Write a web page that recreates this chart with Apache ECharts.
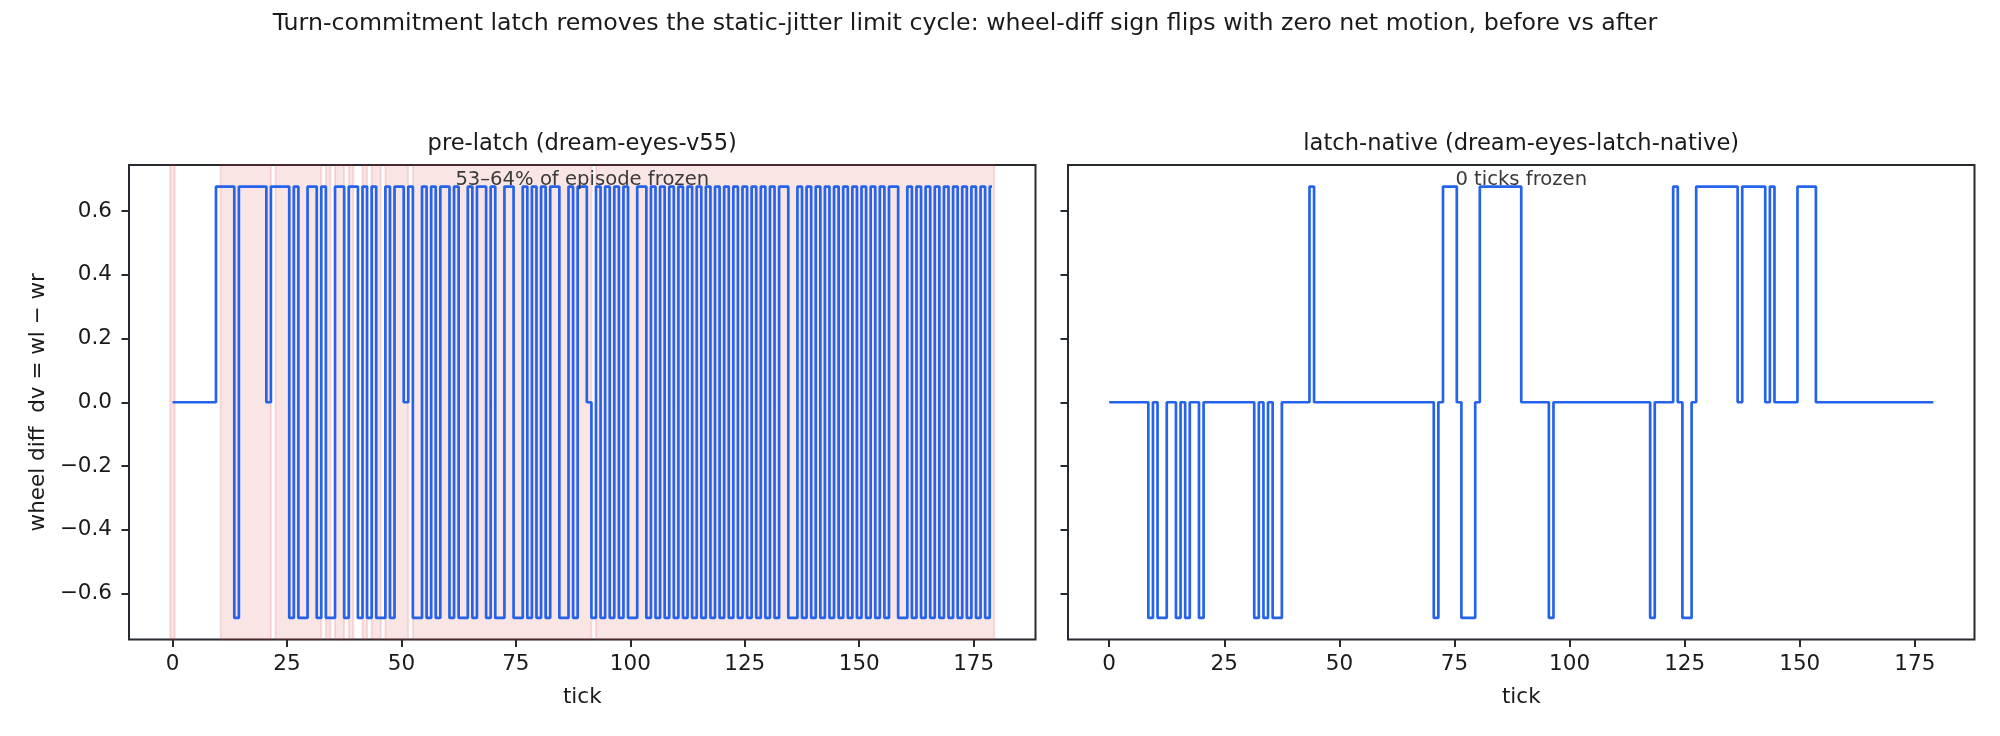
<!DOCTYPE html>
<html><head><meta charset="utf-8">
<script src="https://cdn.jsdelivr.net/npm/echarts@6/dist/echarts.min.js"></script>
<style>html,body{margin:0;padding:0;background:#fff}#c{width:2000px;height:736px}</style>
</head><body><div id="c"></div>
<script>
// wheel-diff levels
const P = 0.677, N = -0.677;

// x tick labels and y tick labels
const X_TICKS = [0, 25, 50, 75, 100, 125, 150, 175];
const Y_TICKS = [-0.6, -0.4, -0.2, 0, 0.2, 0.4, 0.6];

// pre-latch (dream-eyes-v55): dv per tick, ticks 0..179
const PRE_LATCH = [
  0,0,0,0,0,0,0,0,0,0,
  P,P,P,P,N,P,P,P,P,P,
  P,0,P,P,P,P,N,P,N,N,
  P,P,N,P,N,N,P,P,N,P,
  P,N,P,N,P,N,N,P,N,P,
  P,0,P,N,N,P,N,P,N,P,
  P,N,P,N,N,P,N,P,P,N,
  P,N,N,P,P,N,N,P,N,P,
  N,P,N,P,P,N,N,P,N,P,
  P,0,N,P,N,P,N,P,N,P,
  N,N,P,P,N,P,N,P,N,P,
  N,P,N,P,N,P,N,P,N,P,
  N,P,N,P,N,P,N,P,N,P,
  N,P,N,P,P,N,N,P,N,P,
  N,P,N,P,N,P,N,P,N,P,
  N,P,N,P,N,P,N,P,P,N,
  N,P,N,P,N,P,N,P,N,P,
  N,P,N,P,N,P,N,P,N,P
];

// latch-native (dream-eyes-latch-native): dv per tick, ticks 0..179
const LATCH_NATIVE = [
  0,0,0,0,0,0,0,0,0,N,
  0,N,N,0,0,N,0,N,0,0,
  N,0,0,0,0,0,0,0,0,0,
  0,0,N,0,N,0,N,N,0,0,
  0,0,0,0,P,0,0,0,0,0,
  0,0,0,0,0,0,0,0,0,0,
  0,0,0,0,0,0,0,0,0,0,
  0,N,0,P,P,P,0,N,N,N,
  0,P,P,P,P,P,P,P,P,P,
  0,0,0,0,0,0,N,0,0,0,
  0,0,0,0,0,0,0,0,0,0,
  0,0,0,0,0,0,0,0,N,0,
  0,0,0,P,0,N,N,0,P,P,
  P,P,P,P,P,P,P,0,P,P,
  P,P,P,0,P,0,0,0,0,0,
  P,P,P,P,0,0,0,0,0,0,
  0,0,0,0,0,0,0,0,0,0,
  0,0,0,0,0,0,0,0,0,0
];

// frozen stretches (shaded) in the pre-latch run, [start, end] in ticks
const FROZEN_SPANS = [
  [-0.5, 0.5], [10.5, 21.5], [22.5, 32.5], [33.5, 34.5], [35.5, 37.5],
  [38.5, 39.5], [41.5, 42.5], [43.5, 45.5], [46.5, 51.5], [52.5, 91.5], [92.5, 179.5]
];

const SUPTITLE = 'Turn-commitment latch removes the static-jitter limit cycle: wheel-diff sign flips with zero net motion, before vs after';
const PANEL_TITLES = ['pre-latch (dream-eyes-v55)', 'latch-native (dream-eyes-latch-native)'];
const PANEL_NOTES = ['53–64% of episode frozen', '0 ticks frozen'];

const FONT = 'DejaVu Sans';
const INK = '#1a1a1a';
const SPINE = '#262a31';
const LINE = '#2563eb';
const FS = 21.5;

const G = [
  {left: 129, top: 165, width: 906.5, height: 474.5},
  {left: 1068, top: 165, width: 906.5, height: 474.5}
];
const XR = [[-9.5, 188.5], [-8.95, 187.95]];
const YR = 0.7447;

const fmtY = v => (v < 0 ? '\u2212' : '') + Math.abs(v).toFixed(1);

function xAxis(i) {
  return {
    type: 'value', gridIndex: i, min: XR[i][0], max: XR[i][1],
    splitLine: {show: false}, axisLine: {show: false, onZero: false},
    axisTick: {show: true, length: 7.5, inside: false, customValues: X_TICKS, lineStyle: {color: SPINE, width: 2}},
    axisLabel: {customValues: X_TICKS, fontSize: FS, fontFamily: FONT, color: INK, margin: 14},
    name: 'tick', nameLocation: 'middle', nameGap: 47,
    nameTextStyle: {fontSize: FS, fontFamily: FONT, color: INK}
  };
}
function yAxis(i) {
  const a = {
    type: 'value', gridIndex: i, min: -YR, max: YR,
    splitLine: {show: false}, axisLine: {show: false, onZero: false},
    axisTick: {show: true, length: 7.5, inside: false, customValues: Y_TICKS, lineStyle: {color: SPINE, width: 2}},
    axisLabel: {show: i === 0, customValues: Y_TICKS, formatter: fmtY, fontSize: FS, fontFamily: FONT, color: INK, margin: 17}
  };
  if (i === 0) {
    a.name = 'wheel diff  dv = wl \u2212 wr';
    a.nameLocation = 'middle';
    a.nameGap = 80;
    a.nameRotate = 90;
    a.nameTextStyle = {fontSize: FS, fontFamily: FONT, color: INK};
  }
  return a;
}

const chart = echarts.init(document.getElementById('c'), null, {renderer: 'canvas'});
chart.setOption({
  animation: false,
  backgroundColor: '#ffffff',
  grid: G.map(g => Object.assign({show: true, borderColor: SPINE, borderWidth: 2, backgroundColor: 'transparent', containLabel: false}, g)),
  title: [
    {text: SUPTITLE, left: 965, textAlign: 'center', top: 12, padding: 0, textStyle: {fontSize: 23.7, fontWeight: 'normal', fontFamily: FONT, color: INK}},
    {text: PANEL_TITLES[0], left: G[0].left + G[0].width / 2, textAlign: 'center', top: 133, padding: 0, textStyle: {fontSize: 22.6, fontWeight: 'normal', fontFamily: FONT, color: INK}},
    {text: PANEL_TITLES[1], left: G[1].left + G[1].width / 2, textAlign: 'center', top: 133, padding: 0, textStyle: {fontSize: 22.6, fontWeight: 'normal', fontFamily: FONT, color: INK}}
  ],
  graphic: PANEL_NOTES.map((t, i) => ({
    type: 'text', x: G[i].left + G[i].width / 2, y: 180, z: 100,
    style: {text: t, fill: '#3a3a3a', font: '19.6px "DejaVu Sans"', textAlign: 'center', textVerticalAlign: 'middle'}
  })),
  xAxis: [xAxis(0), xAxis(1)],
  yAxis: [yAxis(0), yAxis(1)],
  series: [
    {
      type: 'line', xAxisIndex: 0, yAxisIndex: 0, step: 'middle', showSymbol: false, symbol: 'none',
      data: PRE_LATCH.map((v, i) => [i, v]),
      lineStyle: {color: LINE, width: 2.7}, z: 3,
      markArea: {
        silent: true,
        itemStyle: {color: 'rgba(214,39,40,0.12)', borderColor: 'rgba(214,39,40,0.14)', borderWidth: 2},
        data: FROZEN_SPANS.map(([a, b]) => [{xAxis: a}, {xAxis: b}])
      }
    },
    {
      type: 'line', xAxisIndex: 1, yAxisIndex: 1, step: 'middle', showSymbol: false, symbol: 'none',
      data: LATCH_NATIVE.map((v, i) => [i, v]),
      lineStyle: {color: LINE, width: 2.7}, z: 3
    }
  ]
});
</script>
</body></html>
